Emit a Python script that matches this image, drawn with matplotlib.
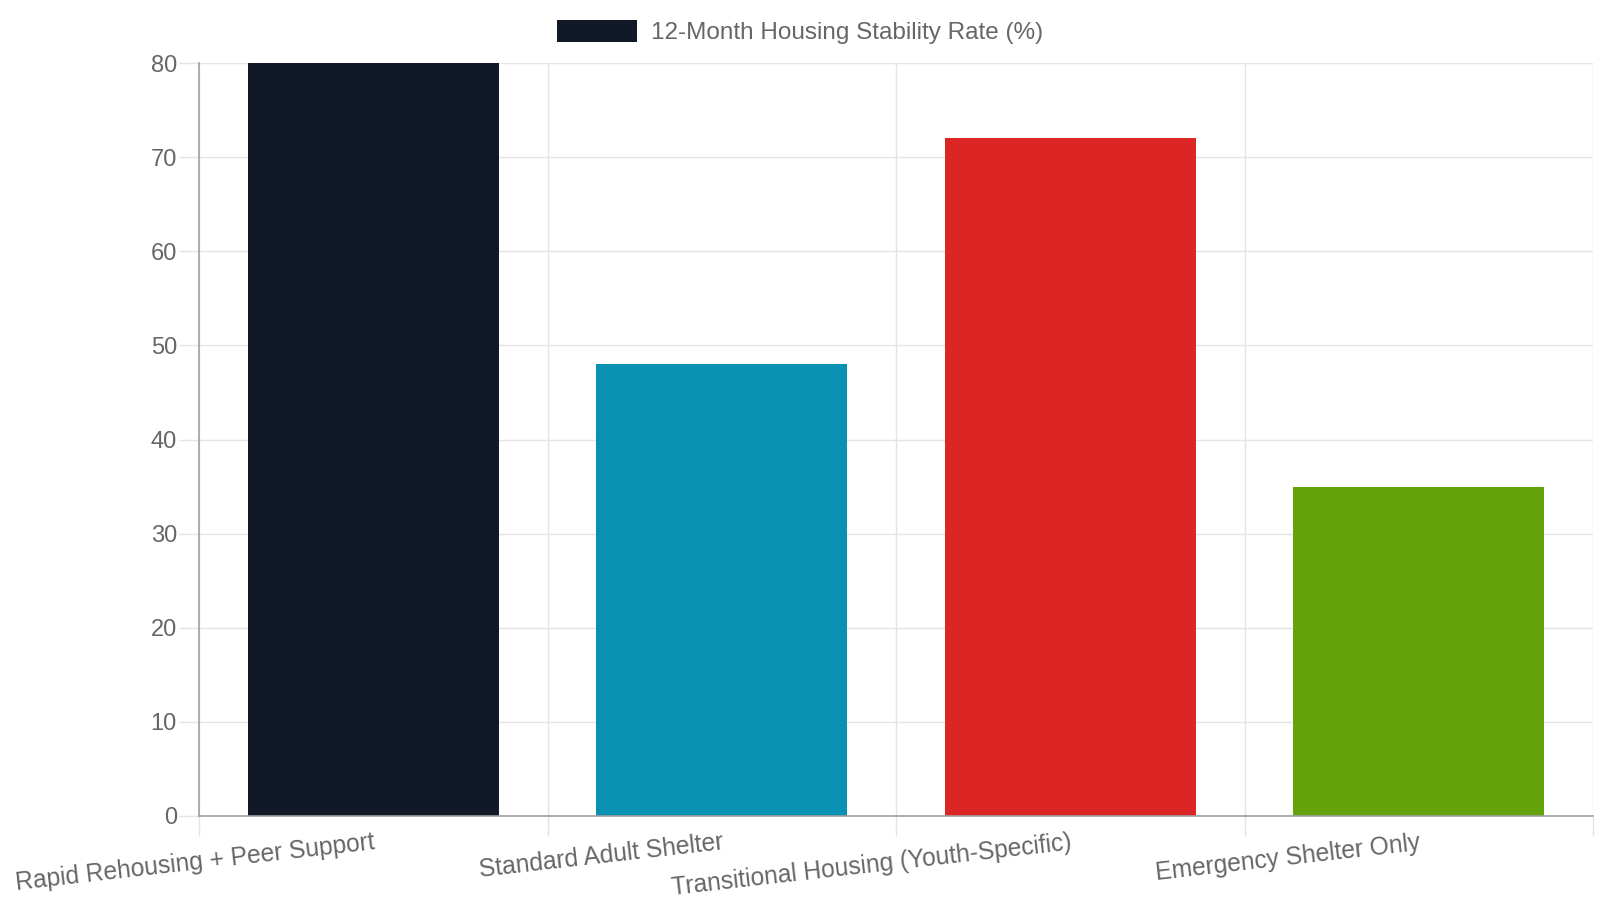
import matplotlib
matplotlib.use("Agg")
import matplotlib.pyplot as plt
from matplotlib.patches import Patch
import numpy as np

categories = ["Rapid Rehousing + Peer Support", "Standard Adult Shelter",
              "Transitional Housing (Youth-Specific)", "Emergency Shelter Only"]
values = [80, 48, 72, 35]
colors = ["#111827", "#0891b2", "#dc2626", "#65a30d"]
series_label = "12-Month Housing Stability Rate (%)"
y_ticks = [0, 10, 20, 30, 40, 50, 60, 70, 80]

plt.rcParams['font.family'] = ['Liberation Sans', 'DejaVu Sans']
text_color = "#666666"
grid_color = "#e4e4e4"
axis_color = "#a0a0a0"

fig = plt.figure(figsize=(16, 9), dpi=100)
ax = fig.add_axes([199/1600, 1 - 816/900, (1593-199)/1600, (816-63)/900])

x = np.arange(len(categories))
ax.bar(x, values, width=0.72, color=colors, zorder=3)

ax.set_xlim(-0.5, len(categories) - 0.5)
ax.set_ylim(0, 80)
ax.set_yticks(y_ticks)
ax.set_yticklabels([str(v) for v in y_ticks])
ax.set_xticks(x)
ax.set_xticklabels(categories, rotation=6.5, ha='right', va='top', rotation_mode='anchor')
ax.set_xticks(np.arange(-0.5, len(categories)), minor=True)

ax.tick_params(axis='x', which='major', length=0, pad=10.5, labelsize=17.75, labelcolor=text_color)
ax.tick_params(axis='x', which='minor', length=14.4, width=1, color=grid_color)
ax.tick_params(axis='y', which='major', length=14.4, width=1, color=grid_color, pad=1.5,
               labelsize=17, labelcolor=text_color)

ax.grid(True, axis='y', which='major', color=grid_color, linewidth=1, zorder=0)
ax.grid(True, axis='x', which='minor', color=grid_color, linewidth=1, zorder=0)
ax.grid(False, axis='x', which='major')

for s in ['top', 'right']:
    ax.spines[s].set_visible(False)
for s in ['left', 'bottom']:
    ax.spines[s].set_color(axis_color)
    ax.spines[s].set_linewidth(1.2)
    ax.spines[s].set_zorder(4)

handle = Patch(facecolor=colors[0], edgecolor='none')
fig.legend([handle], [series_label], loc='center', bbox_to_anchor=(0.5, 1 - 32/900),
           frameon=False, fontsize=17.5, labelcolor=text_color,
           handlelength=3.3, handleheight=1.0, handletextpad=0.55)

fig.savefig("out.png", dpi=100, facecolor='white')
